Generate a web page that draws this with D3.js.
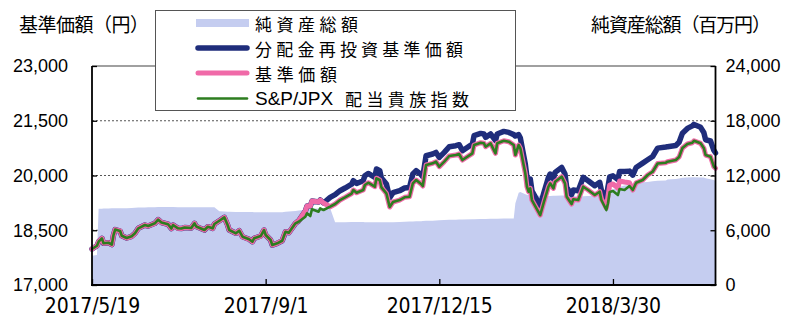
<!DOCTYPE html>
<html>
<head>
<meta charset="utf-8">
<script src="https://cdn.jsdelivr.net/npm/d3@7"></script>
<style>
  body { margin: 0; background: #fff; }
  svg { display: block; }
</style>
</head>
<body>
<svg id="chart" width="791" height="320"></svg>
<script>
// Trading dates (sampled)
const dates = [
  "2017-05-19","2017-05-22","2017-05-23","2017-05-25","2017-05-26","2017-05-29","2017-05-31","2017-06-01","2017-06-02","2017-06-05",
  "2017-06-06","2017-06-09","2017-06-12","2017-06-14","2017-06-16","2017-06-20","2017-06-22","2017-06-26","2017-06-28","2017-06-30",
  "2017-07-04","2017-07-06","2017-07-07","2017-07-10","2017-07-12","2017-07-14","2017-07-18","2017-07-20","2017-07-21","2017-07-26",
  "2017-07-28","2017-07-31","2017-08-01","2017-08-04","2017-08-07","2017-08-09","2017-08-10","2017-08-14","2017-08-16","2017-08-18",
  "2017-08-22","2017-08-24","2017-08-25","2017-08-29","2017-08-31","2017-09-01","2017-09-04","2017-09-05","2017-09-08","2017-09-11",
  "2017-09-13","2017-09-15","2017-09-19","2017-09-21","2017-09-25","2017-09-26","2017-09-28","2017-09-29","2017-10-03","2017-10-04",
  "2017-10-06","2017-10-10","2017-10-13","2017-10-16","2017-10-19","2017-10-23","2017-10-24","2017-10-26","2017-10-30","2017-10-31",
  "2017-11-02","2017-11-06","2017-11-07","2017-11-09","2017-11-10","2017-11-13","2017-11-15","2017-11-17","2017-11-21","2017-11-24",
  "2017-11-27","2017-11-29","2017-12-01","2017-12-04","2017-12-05","2017-12-07","2017-12-11","2017-12-13","2017-12-15","2017-12-18",
  "2017-12-21","2017-12-25","2017-12-27","2017-12-29","2018-01-04","2018-01-05","2018-01-09","2018-01-11","2018-01-12","2018-01-15",
  "2018-01-18","2018-01-19","2018-01-23","2018-01-26","2018-01-29","2018-01-30","2018-02-01","2018-02-02","2018-02-05","2018-02-06",
  "2018-02-07","2018-02-08","2018-02-09","2018-02-14","2018-02-16","2018-02-19","2018-02-20","2018-02-22","2018-02-23","2018-02-27",
  "2018-03-01","2018-03-02","2018-03-05","2018-03-06","2018-03-09","2018-03-12","2018-03-15","2018-03-19","2018-03-22","2018-03-23",
  "2018-03-26","2018-03-27","2018-03-28","2018-03-30","2018-04-02","2018-04-03","2018-04-06","2018-04-09","2018-04-11","2018-04-13",
  "2018-04-17","2018-04-20","2018-04-23","2018-04-26","2018-05-01","2018-05-02","2018-05-07","2018-05-09","2018-05-11","2018-05-14",
  "2018-05-17","2018-05-18","2018-05-22","2018-05-24","2018-05-25","2018-05-28","2018-05-30","2018-05-31"
];

// 純資産総額 (百万円)
const netAssets = [
  3200,3300,8350,8360,8380,8390,8400,8400,8410,8410,
  8420,8420,8440,8460,8480,8500,8510,8520,8550,8560,
  8550,8540,8540,8530,8530,8520,8520,8520,8520,8510,
  8510,8520,8520,8080,8060,8040,8020,8010,8000,8000,
  7990,7990,7980,7980,7970,7970,7970,7970,7980,7980,
  8020,8050,8100,8170,8250,8300,8330,8380,8390,8400,
  8400,8400,6880,6890,6890,6900,6900,6900,6900,6890,
  6890,6890,6890,6880,6880,6870,6870,6890,6910,6930,
  6950,6970,6990,7000,7010,7030,7050,7080,7100,7120,
  7140,7150,7170,7180,7200,7210,7230,7240,7240,7250,
  7260,7270,7280,7290,7300,8950,10100,10200,9950,9900,
  9850,9830,9800,9780,9770,9760,9760,9770,9780,9800,
  9800,9780,9740,9730,9700,9720,9750,9800,9870,9950,
  10000,10200,10350,10500,10600,10750,10900,10950,11050,11150,
  11250,11300,11380,11420,11450,11550,11620,11680,11750,11780,
  11800,11800,11790,11780,11700,11600,11500,11400
];

// 分配金再投資基準価額 (円)
const reinvestedNav = [
  17986,18076,18186,18279,18142,18158,18109,18369,18520,18479,
  18350,18287,18334,18416,18553,18643,18616,18690,18789,18712,
  18665,18547,18643,18553,18547,18575,18561,18690,18602,18506,
  18597,18553,18671,18761,18854,18643,18506,18416,18487,18323,
  18252,18186,18279,18342,18506,18369,18232,18095,18142,18213,
  18460,18432,18690,18760,19027,19164,19164,19301,19274,19328,
  19246,19400,19474,19583,19657,19761,19857,19783,19857,19994,
  20057,19948,20178,20131,19931,19767,19392,19529,19583,19657,
  19674,20041,20131,20022,19967,20542,20589,20633,20496,20633,
  20789,20816,20844,20679,20863,21090,21153,21137,21044,21137,
  20960,21137,21208,21181,21120,21080,21120,21030,20315,19948,
  19811,19904,19583,19172,19493,19948,20041,19904,20085,20222,
  20041,19674,19474,19603,19583,19948,19857,19720,19811,19600,
  19360,19693,19960,19990,19890,20110,20110,20120,20010,20220,
  20340,20430,20520,20750,20780,20790,20820,20910,21160,21290,
  21360,21400,21320,21170,20980,20945,20690,20620
];

// 基準価額 (円)
const nav = [
  17986,18076,18186,18279,18142,18158,18109,18369,18520,18479,
  18350,18287,18334,18416,18553,18643,18616,18690,18789,18712,
  18665,18547,18643,18553,18547,18575,18561,18690,18602,18506,
  18597,18553,18671,18761,18854,18643,18506,18416,18487,18323,
  18252,18186,18279,18342,18506,18369,18232,18095,18142,18213,
  18460,18432,18690,18760,19027,19164,19164,19301,19274,19328,
  19246,19145,19219,19328,19402,19506,19602,19528,19602,19739,
  19802,19693,19923,19876,19676,19512,19137,19274,19328,19402,
  19419,19786,19876,19767,19712,20287,20334,20378,20241,20378,
  20534,20561,20589,20424,20608,20835,20898,20882,20789,20882,
  20608,20882,20953,20926,20835,20561,20835,20745,20060,19693,
  19556,19649,19328,18917,19238,19693,19786,19649,19830,19967,
  19786,19419,19219,19348,19328,19693,19602,19465,19556,19360,
  19110,19438,19739,19767,19657,19849,19822,19800,19602,19802,
  19876,20013,20104,20328,20350,20378,20424,20507,20753,20863,
  20898,20953,20882,20745,20561,20515,20241,20197
];

// S&P/JPX 配当貴族指数 (基準価額換算)
const dividendIndex = [
  17986,18076,18186,18279,18142,18158,18109,18369,18520,18479,
  18350,18287,18334,18416,18553,18643,18616,18690,18789,18712,
  18665,18547,18643,18553,18547,18575,18561,18690,18602,18506,
  18597,18553,18671,18761,18854,18643,18506,18416,18487,18323,
  18252,18186,18279,18342,18506,18369,18232,18095,18142,18213,
  18460,18432,18690,18734,18871,18964,18890,19074,19008,19101,
  19054,19145,19219,19328,19402,19506,19602,19528,19602,19739,
  19802,19693,19923,19876,19676,19512,19137,19274,19328,19402,
  19419,19786,19876,19767,19712,20287,20334,20378,20241,20378,
  20534,20561,20589,20424,20608,20835,20898,20882,20789,20882,
  20608,20882,20953,20926,20835,20561,20835,20745,20060,19693,
  19556,19649,19328,18917,19238,19693,19786,19649,19830,19967,
  19786,19419,19219,19348,19328,19693,19602,19465,19556,19328,
  19054,19238,19548,19575,19465,19630,19602,19712,19602,19802,
  19876,20013,20104,20328,20350,20378,20424,20507,20753,20863,
  20898,20953,20882,20745,20561,20515,20241,20197
];

const leftTicks = [17000, 18500, 20000, 21500, 23000];
const rightTicks = [0, 6000, 12000, 18000, 24000];
const dateTickLabels = ["2017/5/19", "2017/9/1", "2017/12/15", "2018/3/30"];
const legendLabels = ["純資産総額", "分配金再投資基準価額", "基準価額", "S&P/JPX 配当貴族指数"];
const leftTitle = "基準価額（円）";
const rightTitle = "純資産総額（百万円）";

// ---- layout & style ----
const plot = { left: 92, right: 715.5, top: 66, bottom: 285 };
const colors = { area: "#c5cdf0", blue: "#1f2d7b", pink: "#f06aa8", green: "#2d7d1f" };
const cjk = "'Noto Sans CJK JP', 'Noto Sans', sans-serif";
const latin = "'Liberation Sans', Arial, sans-serif";

const svg = d3.select("#chart");
const parse = d3.timeParse("%Y-%m-%d");
const parseTick = d3.timeParse("%Y/%m/%d");
const t = dates.map(parse);
const tickDates = dateTickLabels.map(parseTick);

const x = d3.scaleTime().domain([t[0], t[t.length - 1]]).range([plot.left, plot.right]);
const yL = d3.scaleLinear().domain([17000, 23000]).range([plot.bottom, plot.top]);
const yR = d3.scaleLinear().domain([0, 24000]).range([plot.bottom, plot.top]);

// dotted gridlines
svg.append("g").selectAll("line")
  .data(leftTicks.filter(v => v > 17000 && v < 23000))
  .join("line")
  .attr("x1", plot.left).attr("x2", plot.right)
  .attr("y1", d => yL(d)).attr("y2", d => yL(d))
  .attr("stroke", "#555").attr("stroke-width", 1).attr("stroke-dasharray", "2,2");

// net assets area
const idx = d3.range(t.length);
svg.append("path")
  .datum(idx)
  .attr("fill", colors.area)
  .attr("d", d3.area().x(i => x(t[i])).y0(yR(0)).y1(i => yR(netAssets[i])));

// lines
function drawLine(values, color, width) {
  svg.append("path")
    .datum(idx)
    .attr("fill", "none")
    .attr("stroke", color)
    .attr("stroke-width", width)
    .attr("stroke-linejoin", "round")
    .attr("stroke-linecap", "round")
    .attr("d", d3.line().x(i => x(t[i])).y(i => yL(values[i])));
}
drawLine(reinvestedNav, colors.blue, 5.5);
drawLine(nav, colors.pink, 5);
drawLine(dividendIndex, colors.green, 2.6);

// frame
svg.append("line").attr("x1", plot.left).attr("x2", plot.right)
  .attr("y1", plot.top).attr("y2", plot.top).attr("stroke", "#808080").attr("stroke-width", 1.5);

// axes
const leftAxis = svg.append("g").attr("transform", `translate(${plot.left},0)`)
  .call(d3.axisLeft(yL).tickValues(leftTicks).tickSize(-5).tickSizeOuter(0).tickPadding(24)
    .tickFormat(d3.format(",")));
const rightAxis = svg.append("g").attr("transform", `translate(${plot.right},0)`)
  .call(d3.axisRight(yR).tickValues(rightTicks).tickSize(-5).tickSizeOuter(0).tickPadding(10)
    .tickFormat(d3.format(",")));
const bottomAxis = svg.append("g").attr("transform", `translate(0,${plot.bottom})`)
  .call(d3.axisBottom(x).tickValues(tickDates).tickSize(-6).tickSizeOuter(0).tickPadding(13)
    .tickFormat((d, i) => dateTickLabels[i]));

[leftAxis, rightAxis, bottomAxis].forEach(g => {
  g.select(".domain").remove();
  g.selectAll(".tick line").attr("stroke", "#000").attr("stroke-width", 1.3);
  g.selectAll("text").attr("fill", "#000");
});
leftAxis.selectAll("text").style("font-family", latin).style("font-size", "18px");
rightAxis.selectAll("text").style("font-family", latin).style("font-size", "18px");
bottomAxis.selectAll("text")
  .style("font-family", "'Liberation Sans Narrow', 'DejaVu Sans Condensed', sans-serif")
  .style("font-size", "21px")
  .attr("textLength", d => dateTickLabels[tickDates.indexOf(d)].length * 10.6)
  .attr("lengthAdjust", "spacing");

svg.append("line").attr("x1", plot.left).attr("x2", plot.left)
  .attr("y1", plot.top).attr("y2", plot.bottom).attr("stroke", "#000").attr("stroke-width", 1.8);
svg.append("line").attr("x1", plot.right).attr("x2", plot.right)
  .attr("y1", plot.top).attr("y2", plot.bottom).attr("stroke", "#000").attr("stroke-width", 1.8);
svg.append("line").attr("x1", plot.left - 1).attr("x2", plot.right + 1)
  .attr("y1", plot.bottom).attr("y2", plot.bottom).attr("stroke", "#000").attr("stroke-width", 2);

// axis titles
svg.append("text").attr("x", 19).attr("y", 23).attr("dominant-baseline", "central")
  .style("font-family", cjk).style("font-size", "19px")
  .attr("textLength", 130).attr("lengthAdjust", "spacing").text(leftTitle);
svg.append("text").attr("x", 591).attr("y", 23).attr("dominant-baseline", "central")
  .style("font-family", cjk).style("font-size", "19px")
  .attr("textLength", 180).attr("lengthAdjust", "spacing").text(rightTitle);

// legend
const lg = svg.append("g");
lg.append("rect").attr("x", 155.5).attr("y", 10.5).attr("width", 360).attr("height", 100)
  .attr("fill", "#fff").attr("stroke", "#555").attr("stroke-width", 1);
const rowY = [23, 48, 73, 98.5];
const sx1 = 196, sx2 = 249, tx = 255;
lg.append("rect").attr("x", sx1).attr("y", rowY[0] - 4).attr("width", sx2 - sx1).attr("height", 8)
  .attr("fill", colors.area);
[[colors.blue, 5.5], [colors.pink, 5], [colors.green, 2.6]].forEach(([c, w], k) => {
  lg.append("line").attr("x1", sx1 + 2).attr("x2", sx2 - 2)
    .attr("y1", rowY[k + 1]).attr("y2", rowY[k + 1])
    .attr("stroke", c).attr("stroke-width", w).attr("stroke-linecap", "round");
});
legendLabels.forEach((label, k) => {
  const sp = label.indexOf(" ");
  const cjkPart = sp > 0 ? label.slice(sp + 1) : label;
  const cx = sp > 0 ? 345 : tx;
  if (sp > 0) {
    lg.append("text").attr("x", tx).attr("y", rowY[k]).attr("dominant-baseline", "central")
      .style("font-family", latin).style("font-size", "19px").text(label.slice(0, sp));
  }
  lg.append("text").attr("x", cx).attr("y", rowY[k]).attr("dominant-baseline", "central")
    .style("font-family", cjk).style("font-size", "17px")
    .attr("textLength", cjkPart.length * 21 - 2).attr("lengthAdjust", "spacing")
    .text(cjkPart);
});
</script>
</body>
</html>
